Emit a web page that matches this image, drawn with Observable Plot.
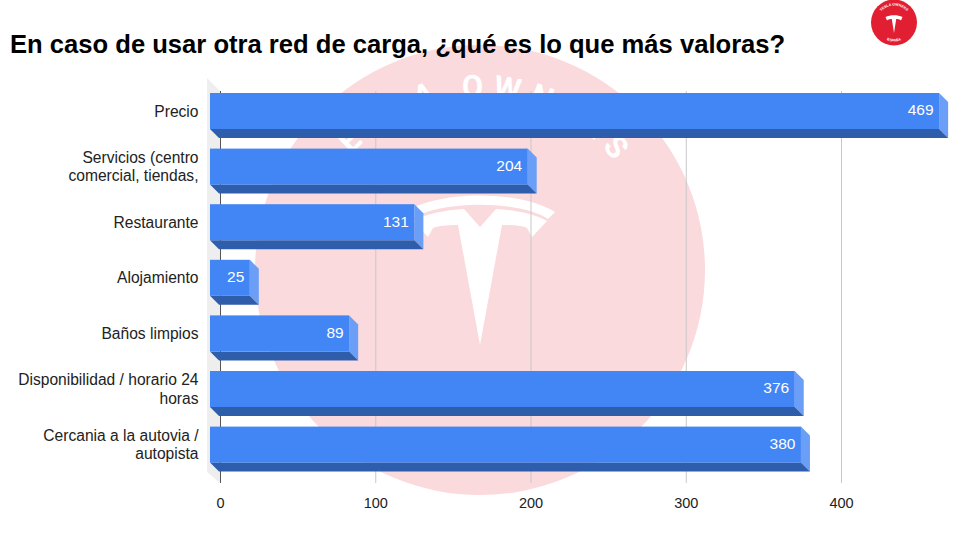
<!DOCTYPE html>
<html><head><meta charset="utf-8">
<script src="https://cdn.jsdelivr.net/npm/d3@7"></script>
<script src="https://cdn.jsdelivr.net/npm/@observablehq/plot@0.6"></script>
<style>
html,body{margin:0;padding:0;background:#fff;overflow:hidden}
#wrap{position:relative;width:960px;height:540px}
#wm,#logo,#chart,h1{position:absolute}
#wm{left:0;top:0}
#chart{left:0;top:0}
h1{left:10px;top:28px;margin:0;font:bold 25.6px/32px "Liberation Sans",Arial,sans-serif;color:#000;white-space:nowrap;z-index:3}
#logo{left:870px;top:0;z-index:3}
svg text{font-family:"Liberation Sans",Arial,sans-serif}
</style></head><body>
<div id="wrap">
<svg id="wm" width="960" height="540" viewBox="0 0 960 540">
  <circle cx="480" cy="270" r="225" fill="#fadadd"/>
  <defs><path id="arc" d="M 307 270 A 173 173 0 0 1 653 270"/></defs>
  <text style="font-family:Roboto,sans-serif" font-size="31" font-weight="700" fill="#fff" letter-spacing="9" text-anchor="middle"><textPath href="#arc" startOffset="49%">TESLA OWNERS</textPath></text>
  <path fill="#fff" d="M405 212 C440 190 520 190 555 212 L548 219 C520 200 440 200 412 219 Z"/>
  <path fill="#fff" d="M480 345 L458 225 C447 225 437 226 433 228 L428 237 L413 221 C425 214 445 210 464 209 L480 227 L496 209 C515 210 535 214 547 221 L532 237 L527 228 C523 226 513 225 502 225 Z"/>
</svg>
<div id="chart"></div>
<h1>En caso de usar otra red de carga, ¿qué es lo que más valoras?</h1>
<svg id="logo" width="48" height="48" viewBox="0 0 48 48">
  <defs>
    <path id="la" d="M 7 22.5 A 17 17 0 0 1 41 22.5"/>
    <path id="lb" d="M 5 22.5 A 19 19 0 0 0 43 22.5"/>
  </defs>
  <circle cx="24" cy="22.5" r="23" fill="#e21f32"/>
  <path fill="#fff" d="M24 33 L21.8 19 C19.5 19 18 19.5 17 20.5 L15.5 17 C20 14.5 28 14.5 32.5 17 L31 20.5 C30 19.5 28.5 19 26.2 19 Z"/>
  <text font-size="3.6" font-weight="700" fill="#fff" text-anchor="middle"><textPath href="#la" startOffset="50%">TESLA OWNERS</textPath></text>
  <text font-size="3.6" font-weight="700" fill="#fff" text-anchor="middle"><textPath href="#lb" startOffset="50%">ESPAÑA</textPath></text>
</svg>
</div>
<script>
const categories = ["Precio","Servicios (centro\ncomercial, tiendas,","Restaurante","Alojamiento","Baños limpios","Disponibilidad / horario 24\nhoras","Cercania a la autovia /\nautopista"];
const values = [469,204,131,25,89,376,380];
const xTicks = [0,100,200,300,400];
const rows = categories.map((c,i)=>({c,v:values[i]}));

const DEPTH = 9, INSET = 5.3, BACK = 10, STEP = 55.6, Y0 = 87.7;
const cFront="#4285f4", cSide="#6a9ef7", cBottom="#2e5dab";

function faces(index, scales, values_, dims, ctx) {
  const g = d3.select(ctx.document.createElementNS("http://www.w3.org/2000/svg","g"));
  const x0 = scales.x(0);
  for (const i of index) {
    const d = rows[i];
    const xv = scales.x(d.v);
    const t = scales.y(d.c) + INSET, b = scales.y(d.c) + STEP - INSET;
    const ft = t, fb = b - DEPTH, fr = xv - DEPTH, fl = x0 - BACK;
    g.append("polygon").attr("fill",cSide).attr("points",[[fr,ft],[xv,ft+DEPTH],[xv,b],[fr,fb]].join(" "));
    g.append("polygon").attr("fill",cBottom).attr("points",[[fl,fb],[fr,fb],[xv,b],[fl+DEPTH,b]].join(" "));
    g.append("rect").attr("fill",cFront).attr("x",fl).attr("y",ft).attr("width",fr-fl).attr("height",fb-ft);
  }
  return g.node();
}
function wall(index, scales, v, dims, ctx) {
  const g = d3.select(ctx.document.createElementNS("http://www.w3.org/2000/svg","g"));
  const x0 = scales.x(0), top = dims.marginTop, bot = dims.height - dims.marginBottom;
  g.append("polygon").attr("fill","#eeeeee").attr("points",[[x0-13,top-13],[x0,top],[x0,bot],[x0-13,bot-11]].join(" "));
  return g.node();
}

const chart = Plot.plot({
  width:960, height:540,
  marginLeft:220, marginRight:119, marginTop:91, marginBottom:57,
  style:{background:"transparent", fontFamily:"Liberation Sans, Arial, sans-serif"},
  x:{domain:[0,400], ticks:xTicks},
  y:{axis:null, domain:categories, range:[Y0, Y0+STEP*categories.length], padding:0, round:false},
  marks:[
    Plot.ruleX([0],{render:wall}),
    Plot.ruleX(xTicks.slice(1),{stroke:"#c8c8c8",strokeWidth:1}),
    Plot.ruleX([0],{stroke:"#555",strokeWidth:1}),
    Plot.barX(rows,{x:"v",y:"c",render:faces}),
    Plot.text(rows,{x:"v",y:"c",text:d=>String(d.v),fill:"#fff",textAnchor:"end",dx:-15,dy:-5.5,fontSize:15.5,fontFamily:"Roboto, sans-serif"}),
    Plot.text(rows,{y:"c",text:"c",frameAnchor:"left",textAnchor:"end",dx:-22,dy:-5.5,fontSize:15.6,lineHeight:1.2,fill:"#222"}),
    Plot.axisX(xTicks,{anchor:"bottom",tickSize:0,tickPadding:14,fontSize:14.5,label:null,fill:"#222"})
  ]
});
document.getElementById("chart").appendChild(chart);
</script>
</body></html>
